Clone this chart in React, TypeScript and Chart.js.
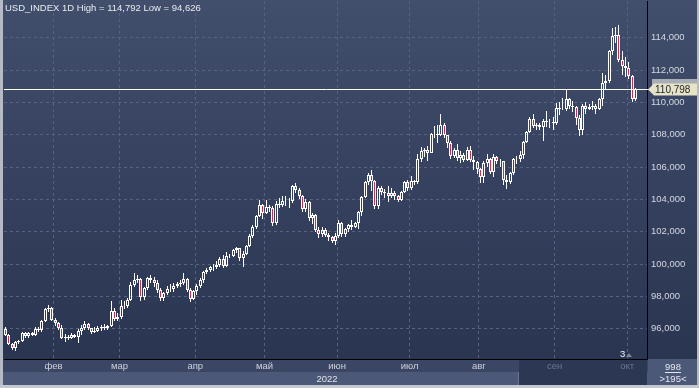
import React, { useEffect, useRef } from 'react';
import { Chart, registerables } from 'chart.js';

Chart.register(...registerables);

// ---- categories ----
const monthNames = ['янв', 'фев', 'мар', 'апр', 'май', 'июн', 'июл', 'авг', 'сен', 'окт'];
const daysByMonth = [
  [11, 12, 13, 14, 17, 18, 19, 20, 21, 24, 25, 26, 27, 28, 31],
  [1, 2, 3, 4, 7, 8, 9, 10, 11, 14, 15, 16, 17, 18, 21, 22, 23, 24, 25, 28],
  [1, 2, 3, 4, 7, 8, 9, 10, 11, 14, 15, 16, 17, 18, 21, 22, 23, 24, 25, 28, 29, 30, 31],
  [1, 4, 5, 6, 7, 8, 11, 12, 13, 14, 15, 18, 19, 20, 21, 22, 25, 26, 27, 28, 29],
  [2, 3, 4, 5, 6, 9, 10, 11, 12, 13, 16, 17, 18, 19, 20, 23, 24, 25, 26, 27, 30, 31],
  [1, 2, 3, 6, 7, 8, 9, 10, 13, 14, 15, 16, 17, 20, 21, 22, 23, 24, 27, 28, 29, 30],
  [1, 4, 5, 6, 7, 8, 11, 12, 13, 14, 15, 18, 19, 20, 21, 22, 25, 26, 27, 28, 29],
  [1, 2, 3, 4, 5, 8, 9, 10, 11, 12, 15, 16, 17, 18, 19, 22, 23, 24, 25, 26, 29, 30, 31],
  [1, 2, 5, 6, 7, 8, 9, 12, 13, 14, 15, 16, 19, 20, 21, 22, 23, 26, 27, 28, 29, 30],
  [3, 4, 5],
];
const EMPTY_SLOTS = 3;
const yearLabel = '2022';

// ---- series (USD_INDEX daily OHLC) ----
const opens = [
  96.00, 95.62, 95.03, 94.82, 95.18, 95.25, 95.74, 95.53, 95.75, 95.64, 95.98, 95.94, 96.46, 97.22, 97.28,
  96.55, 96.38, 96.02, 95.40, 95.48, 95.42, 95.62, 95.50, 95.84, 96.05, 96.32, 96.02, 95.78, 95.85, 96.05, 96.08, 96.02, 96.18, 97.12, 96.62,
  96.72, 97.42, 97.38, 97.78, 98.68, 99.02, 99.06, 97.98, 98.52, 99.12, 99.02, 98.82, 98.42, 97.92, 98.24, 98.48, 98.46, 98.62, 98.78, 98.80, 99.08, 98.40, 97.82,
  98.32, 98.62, 99.02, 99.48, 99.62, 99.80, 99.84, 99.96, 100.30, 99.86, 100.52, 100.50, 100.90, 100.98, 100.38, 100.62, 101.12, 101.76, 102.32, 102.96, 103.64,
  103.18, 103.56, 103.46, 102.56, 103.74, 103.66, 103.90, 103.92, 103.88, 104.84, 104.56, 104.20, 103.38, 103.82, 102.82, 103.04, 102.12, 101.86, 102.08, 101.82, 101.66, 101.42,
  101.76, 102.56, 101.84, 102.14, 102.42, 102.32, 102.52, 103.24, 104.14, 105.06, 105.48, 105.16, 103.62, 104.72, 104.44, 104.42, 104.18, 104.42, 104.22, 103.94, 104.48, 105.08,
  104.70, 105.12, 105.10, 106.52, 106.98, 107.06, 106.90, 108.02, 108.06, 108.00, 108.58, 107.98, 107.50, 106.68, 107.08, 106.58, 106.72, 106.46, 107.04, 106.42, 106.30,
  105.86, 105.36, 106.24, 106.48, 105.70, 106.60, 106.38, 106.36, 105.20, 105.10, 105.62, 106.48, 106.52, 106.72, 107.54, 108.14, 108.98, 108.56, 108.60, 108.50, 108.82, 108.80, 108.78,
  108.70, 109.66, 109.56, 109.62, 110.24, 109.78, 109.70, 109.02, 108.32, 109.78, 109.62, 109.72, 109.78, 109.56, 110.22, 111.22, 111.34, 113.16, 114.08, 114.14, 112.62, 112.22,
  112.10, 111.66, 110.18,
];
const highs = [
  96.08, 95.70, 95.10, 95.25, 95.32, 95.83, 95.80, 95.82, 95.82, 96.08, 96.12, 96.55, 97.30, 97.44, 97.32,
  96.65, 96.42, 96.25, 95.68, 95.60, 95.75, 95.70, 96.00, 96.22, 96.45, 96.38, 96.05, 96.10, 96.20, 96.25, 96.30, 96.25, 97.74, 97.30, 96.98,
  97.80, 97.70, 97.90, 98.88, 99.42, 99.35, 99.12, 98.60, 99.20, 99.30, 99.22, 99.00, 98.55, 98.30, 98.62, 98.78, 98.82, 98.90, 99.02, 99.42, 99.12, 98.50, 98.38,
  98.78, 99.12, 99.55, 99.78, 99.90, 100.02, 100.20, 100.42, 100.55, 100.75, 100.60, 100.95, 101.05, 101.02, 100.82, 101.20, 101.85, 102.40, 103.05, 103.95, 103.70,
  103.94, 103.65, 103.58, 103.92, 104.07, 104.18, 104.20, 104.08, 104.92, 105.01, 104.70, 104.25, 104.00, 103.90, 103.18, 103.08, 102.30, 102.32, 102.22, 101.94, 101.76, 101.90,
  102.72, 102.62, 102.22, 102.48, 102.72, 102.62, 103.30, 104.24, 105.14, 105.64, 105.80, 105.22, 104.85, 104.82, 104.65, 104.82, 104.70, 104.52, 104.28, 104.55, 105.15, 105.22,
  105.44, 105.22, 106.80, 107.26, 107.20, 107.30, 108.12, 108.52, 108.58, 109.29, 108.72, 108.00, 107.62, 107.20, 107.42, 107.00, 106.85, 107.22, 107.32, 106.70, 106.40,
  105.96, 106.38, 106.80, 106.54, 106.80, 106.70, 106.50, 106.40, 105.50, 105.70, 106.56, 106.70, 107.02, 107.62, 108.22, 109.08, 109.28, 108.70, 108.70, 109.00, 109.48, 109.00, 109.10,
  109.98, 110.04, 110.25, 110.79, 110.30, 110.06, 109.80, 109.20, 109.88, 110.00, 109.92, 110.10, 109.92, 110.30, 111.80, 111.72, 113.24, 114.58, 114.68, 114.79, 113.20, 112.80,
  112.52, 111.70, 110.90,
];
const lows = [
  95.58, 94.98, 94.70, 94.63, 95.05, 95.20, 95.45, 95.43, 95.58, 95.55, 95.82, 95.78, 96.40, 97.05, 96.48,
  96.20, 95.92, 95.35, 95.17, 95.28, 95.35, 95.40, 95.15, 95.62, 95.95, 95.95, 95.70, 95.72, 95.80, 95.85, 95.90, 95.95, 96.10, 96.50, 96.50,
  96.60, 97.20, 97.30, 97.72, 98.60, 98.80, 97.72, 97.80, 98.40, 98.85, 98.60, 98.20, 97.70, 97.72, 98.10, 98.25, 98.30, 98.50, 98.60, 98.70, 98.25, 97.68, 97.80,
  98.10, 98.50, 98.85, 99.40, 99.48, 99.60, 99.70, 99.80, 99.78, 99.80, 100.40, 100.45, 100.70, 100.22, 99.82, 100.55, 101.05, 101.60, 102.20, 102.90, 102.80,
  103.10, 103.20, 102.36, 102.40, 103.45, 103.50, 103.60, 103.45, 103.78, 104.40, 104.05, 103.20, 103.25, 102.66, 102.50, 102.00, 101.64, 101.70, 101.70, 101.43, 101.30, 101.20,
  101.62, 101.70, 101.65, 102.00, 102.10, 102.22, 102.20, 103.00, 104.10, 104.90, 104.52, 103.42, 103.40, 104.30, 104.10, 103.85, 104.10, 103.95, 103.86, 103.90, 104.40, 104.50,
  104.60, 104.86, 104.98, 106.30, 106.62, 106.40, 106.84, 107.80, 107.50, 107.90, 107.80, 107.20, 106.50, 106.55, 106.40, 106.28, 106.30, 106.40, 106.30, 105.80, 105.55,
  105.04, 105.00, 106.00, 105.60, 105.40, 106.18, 106.00, 104.90, 104.64, 104.96, 105.50, 106.20, 106.30, 106.50, 107.50, 108.10, 108.40, 108.30, 108.30, 107.60, 108.50, 108.40, 108.30,
  108.60, 109.20, 109.50, 109.45, 109.62, 109.40, 108.62, 107.90, 108.00, 109.30, 109.50, 109.50, 109.30, 109.50, 109.80, 110.80, 111.20, 112.90, 113.70, 112.50, 111.70, 111.56,
  111.46, 110.05, 110.08,
];
const closes = [
  95.62, 95.03, 94.82, 95.18, 95.25, 95.74, 95.53, 95.75, 95.64, 95.98, 95.94, 96.46, 97.22, 97.28, 96.55,
  96.38, 96.02, 95.40, 95.48, 95.42, 95.62, 95.50, 95.84, 96.05, 96.32, 96.02, 95.78, 95.85, 96.05, 96.08, 96.02, 96.18, 97.12, 96.62, 96.72,
  97.42, 97.38, 97.78, 98.68, 99.02, 99.06, 97.98, 98.52, 99.12, 99.02, 98.82, 98.42, 97.92, 98.24, 98.48, 98.46, 98.62, 98.78, 98.80, 99.08, 98.40, 97.82, 98.32,
  98.62, 99.02, 99.48, 99.62, 99.80, 99.84, 99.96, 100.30, 99.86, 100.52, 100.50, 100.90, 100.98, 100.38, 100.62, 101.12, 101.76, 102.32, 102.96, 103.64, 103.18,
  103.56, 103.46, 102.56, 103.74, 103.66, 103.90, 103.92, 103.88, 104.84, 104.56, 104.20, 103.38, 103.82, 102.82, 103.04, 102.12, 101.86, 102.08, 101.82, 101.66, 101.42, 101.76,
  102.56, 101.84, 102.14, 102.42, 102.32, 102.52, 103.24, 104.14, 105.06, 105.48, 105.16, 103.62, 104.72, 104.44, 104.42, 104.18, 104.42, 104.22, 103.94, 104.48, 105.08, 104.70,
  105.12, 105.10, 106.52, 106.98, 107.06, 106.90, 108.02, 108.06, 108.00, 108.58, 107.98, 107.50, 106.68, 107.08, 106.58, 106.72, 106.46, 107.04, 106.42, 106.30, 105.86,
  105.36, 106.24, 106.48, 105.70, 106.60, 106.38, 106.36, 105.20, 105.10, 105.62, 106.48, 106.52, 106.72, 107.54, 108.14, 108.98, 108.56, 108.60, 108.50, 108.82, 108.80, 108.78, 108.70,
  109.66, 109.56, 109.62, 110.24, 109.78, 109.70, 109.02, 108.32, 109.78, 109.62, 109.72, 109.78, 109.56, 110.22, 111.22, 111.34, 113.16, 114.08, 114.14, 112.62, 112.22, 112.10,
  111.66, 110.18, 110.798,
];

// ---- axis / header texts ----
const yTickValues = [96, 98, 100, 102, 104, 106, 108, 110, 112, 114];
const Y_MIN = 94.13;
const Y_MAX = 116.27;
const titleText = 'USD_INDEX 1D High = 114,792 Low = 94,626';
const lastPrice = 110.798;
const barsCountText = '998';
const visibleBarsText = '>195<';
const markerText = '3';

const fmt = (v: number) => v.toFixed(3).replace('.', ',');

const FONT = '"Liberation Sans", Arial, sans-serif';
const GRID = '#56627f';
const DOWN_FILL = '#c0304f';
const UP_FILL = 'rgba(0,0,0,0)';

export default function App() {
  const ref = useRef<HTMLCanvasElement>(null);

  useEffect(() => {
    const canvas = ref.current;
    if (!canvas) return;

    const labels: string[] = [];
    const monthAt = new Map<number, number>();
    daysByMonth.forEach((days, m) => {
      days.forEach((d, k) => {
        if (k === 0 && m > 0) monthAt.set(labels.length, m);
        labels.push(`${d}.${m + 1}.2022`);
      });
    });
    for (let i = 0; i < EMPTY_SLOTS; i++) labels.push(`slot${i}`);
    const dimFrom = labels.indexOf('1.9.2022');

    const bodies = opens.map((o, i) => [o, closes[i]]);
    const upperWicks = opens.map((o, i) => [Math.max(o, closes[i]), highs[i]]);
    const lowerWicks = opens.map((o, i) => [lows[i], Math.min(o, closes[i])]);
    const bodyColors = opens.map((o, i) => (closes[i] < o ? DOWN_FILL : UP_FILL));

    const decor = {
      id: 'decor',
      beforeDraw(chart: any) {
        const ctx = chart.ctx as CanvasRenderingContext2D;
        const W = chart.width;
        const H = chart.height;
        const bottom = chart.chartArea.bottom;
        ctx.save();
        const g = ctx.createLinearGradient(0, 0, 0, bottom);
        g.addColorStop(0, '#414e6c');
        g.addColorStop(1, '#2a3551');
        ctx.fillStyle = g;
        ctx.fillRect(0, 0, W, bottom);
        ctx.fillStyle = '#3a4664';
        ctx.fillRect(0, bottom, W, 13);
        ctx.fillStyle = '#4b5877';
        ctx.fillRect(0, bottom + 13, W, H - bottom - 13);
        ctx.fillStyle = '#2c3753';
        ctx.fillRect(519, bottom, chart.chartArea.right - 519, H - bottom);
        ctx.fillStyle = '#6a7590';
        ctx.fillRect(518, bottom + 13, 1, 13);
        ctx.fillStyle = '#4b5877';
        ctx.fillRect(chart.chartArea.right + 1, bottom, W - chart.chartArea.right - 1, H - bottom);
        ctx.fillStyle = '#b4bac6';
        ctx.fillRect(0, 0, 3, H);
        ctx.fillRect(W - 2, 0, 2, H);
        ctx.fillStyle = '#c4c8d0';
        ctx.fillRect(0, H - 3, W, 3);
        ctx.restore();
      },
      beforeDatasetsDraw(chart: any) {
        // snap candle elements (positioned by the scales) to the pixel grid
        chart.data.datasets.forEach((_d: any, di: number) => {
          chart.getDatasetMeta(di).data.forEach((el: any) => {
            el.x = Math.floor(el.x) + 0.5;
            el.y = Math.round(el.y);
            el.base = Math.round(el.base);
          });
        });
      },
      afterDraw(chart: any) {
        const ctx = chart.ctx as CanvasRenderingContext2D;
        const { left, right, bottom } = chart.chartArea;
        const yS = chart.scales.y;
        const W = chart.width;
        ctx.save();
        const py = Math.round(yS.getPixelForValue(lastPrice)) + 0.5;
        ctx.strokeStyle = '#ffffff';
        ctx.lineWidth = 1;
        ctx.beginPath();
        ctx.moveTo(left, py);
        ctx.lineTo(right + 2, py);
        ctx.stroke();
        ctx.fillStyle = '#a9adb5';
        ctx.fillRect(right + 5, py - 10.5, W - right - 7, 7);
        ctx.fillStyle = '#e6e3c6';
        ctx.beginPath();
        ctx.moveTo(right + 1, py);
        ctx.lineTo(right + 7, py - 6);
        ctx.lineTo(W - 2, py - 6);
        ctx.lineTo(W - 2, py + 6);
        ctx.lineTo(right + 7, py + 6);
        ctx.closePath();
        ctx.fill();
        ctx.fillStyle = '#1b1f28';
        ctx.font = `10px ${FONT}`;
        ctx.textBaseline = 'middle';
        ctx.textAlign = 'left';
        ctx.fillText(fmt(lastPrice), right + 8, py + 0.5);
        ctx.fillStyle = '#e8ebf0';
        ctx.font = `9.5px ${FONT}`;
        ctx.fillText(titleText, 5, 8);
        ctx.fillStyle = '#e0e3ea';
        ctx.textAlign = 'center';
        ctx.fillText(yearLabel, 327, bottom + 20);
        const cx = (right + W) / 2;
        ctx.fillStyle = '#e4e7ee';
        ctx.fillText(barsCountText, cx, bottom + 8);
        ctx.fillRect(cx - 8, bottom + 13, 16, 1);
        ctx.fillText(visibleBarsText, cx, bottom + 20);
        ctx.textAlign = 'left';
        ctx.fillStyle = '#f0f2f6';
        ctx.fillText(markerText, 620, bottom - 5);
        ctx.fillStyle = '#7d869c';
        ctx.beginPath();
        ctx.moveTo(626, bottom - 2);
        ctx.lineTo(629, bottom - 6);
        ctx.lineTo(632, bottom - 2);
        ctx.closePath();
        ctx.fill();
        ctx.restore();
      },
    };

    const chart = new Chart(canvas, {
      type: 'bar',
      data: {
        labels,
        datasets: [
          { label: 'lower', data: lowerWicks as any, backgroundColor: '#ffffff', barThickness: 1, grouped: false, inflateAmount: 0, order: 2 } as any,
          { label: 'upper', data: upperWicks as any, backgroundColor: '#ffffff', barThickness: 1, grouped: false, inflateAmount: 0, order: 2 } as any,
          {
            label: 'body', data: bodies as any, backgroundColor: bodyColors, borderColor: '#ffffff', borderWidth: 1,
            borderSkipped: false, barThickness: 3, grouped: false, inflateAmount: 0, order: 1,
          } as any,
        ],
      },
      options: {
        responsive: false,
        devicePixelRatio: 1,
        animation: false,
        events: [],
        layout: { padding: { left: 4, top: 1, right: 0, bottom: 0 } },
        plugins: { legend: { display: false }, tooltip: { enabled: false } },
        scales: {
          x: {
            type: 'category',
            offset: true,
            grid: {
              offset: true,
              drawTicks: false,
              color: (c: any) => (monthAt.has(c.index) ? GRID : 'rgba(0,0,0,0)'),
            },
            border: { display: true, color: '#000000', width: 1, dash: [3, 3] },
            ticks: {
              autoSkip: false,
              maxRotation: 0,
              minRotation: 0,
              padding: 2,
              labelOffset: -1.6,
              font: { family: FONT, size: 9.5 },
              color: (c: any) => (c.index >= dimFrom ? '#6b7691' : '#cdd1da'),
              callback: (_v: any, i: number) => (monthAt.has(i) ? monthNames[monthAt.get(i) as number] : ''),
            },
            afterFit: (s: any) => { s.height = 29; s.paddingLeft = 0; s.paddingRight = 0; },
          },
          y: {
            position: 'right',
            min: Y_MIN,
            max: Y_MAX,
            afterBuildTicks: (s: any) => { s.ticks = yTickValues.map((v) => ({ value: v })); },
            grid: { color: GRID, drawTicks: false },
            border: { display: true, color: '#000000', width: 1, dash: [3, 3] },
            ticks: {
              padding: 4,
              font: { family: FONT, size: 9.5 },
              color: '#d4d8e0',
              callback: (v: any) => fmt(Number(v)),
            },
            afterFit: (s: any) => { s.width = 52; s.paddingTop = 0; s.paddingBottom = 0; },
          },
        },
      },
      plugins: [decor],
    } as any);

    return () => chart.destroy();
  }, []);

  return (
    <div style={{ position: 'fixed', left: 0, top: 0, width: 699, height: 388 }}>
      <canvas ref={ref} width={699} height={388} style={{ display: 'block', width: 699, height: 388 }} />
    </div>
  );
}
